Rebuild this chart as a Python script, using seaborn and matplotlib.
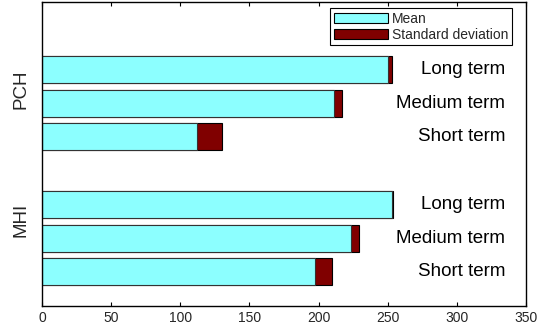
import numpy as np
import pandas as pd
import matplotlib
matplotlib.use("Agg")
import matplotlib.pyplot as plt
import matplotlib.patches as mpatches
import seaborn as sns
from matplotlib.transforms import blended_transform_factory

# ---- data ----
groups = ["MHI", "MHI", "MHI", "PCH", "PCH", "PCH"]
terms = ["Short term", "Medium term", "Long term",
         "Short term", "Medium term", "Long term"]
mean_vals = [197.6, 223.7, 253.0, 112.0, 211.5, 250.5]
sd_vals = [12.3, 5.3, 1.0, 18.0, 5.2, 2.5]
group_names = ["MHI", "PCH"]
term_order = ["Short term", "Medium term", "Long term"]
xticks = [0, 50, 100, 150, 200, 250, 300, 350]

sns.set_theme(style="white")
plt.rcParams['font.family'] = ['Liberation Sans', 'DejaVu Sans']

df = pd.DataFrame({"group": groups, "term": terms,
                   "mean": mean_vals, "sd": sd_vals})
df["pos"] = [group_names.index(g) * 4 + term_order.index(t) + 1
             for g, t in zip(df["group"], df["term"])]
df["total"] = df["mean"] + df["sd"]

fig = plt.figure(figsize=(5.37, 3.27), dpi=100)
ax = fig.add_axes([0.078, 0.065, 0.9015, 0.929])

cyan = "#8CFFFF"
dred = "#800000"
sns.barplot(data=df, x="total", y="pos", orient="h", native_scale=True,
            color=dred, saturation=1, edgecolor="black", linewidth=0.8,
            width=0.8, ax=ax)
sns.barplot(data=df, x="mean", y="pos", orient="h", native_scale=True,
            color=cyan, saturation=1, edgecolor="#333333", linewidth=0.8,
            width=0.8, ax=ax)

ax.set_xlim(0, 350)
ax.set_ylim(0, 9)
ax.set_xticks(xticks)
ax.set_xticklabels([str(v) for v in xticks], fontsize=10)
ax.set_yticks([])
ax.set_xlabel("")
ax.set_ylabel("")
ax.tick_params(axis="x", direction="in", length=3, top=True, bottom=True,
               width=0.8, color="black", pad=3.5)
for s in ax.spines.values():
    s.set_visible(True)
    s.set_color("black")
    s.set_linewidth(1.0)

for _, r in df.iterrows():
    ax.text(335, r["pos"], r["term"], ha="right", va="center", fontsize=13.5,
            color="black")

tr = blended_transform_factory(fig.transFigure, ax.transData)
ax.text(21 / 537, 6.42, "PCH", rotation=90, ha="center", va="center",
        fontsize=13.5, transform=tr)
ax.text(21 / 537, 2.54, "MHI", rotation=90, ha="center", va="center",
        fontsize=13.5, transform=tr)

handles = [mpatches.Patch(facecolor=cyan, edgecolor="black", linewidth=0.8, label="Mean"),
           mpatches.Patch(facecolor=dred, edgecolor="black", linewidth=0.8,
                          label="Standard deviation")]
leg = ax.legend(handles=handles, loc="upper right", bbox_to_anchor=(0.971, 0.979),
                borderaxespad=0, fontsize=10, handlelength=3.9, handleheight=0.75,
                labelspacing=0.15, borderpad=0.25, handletextpad=0.3,
                fancybox=False, framealpha=1, edgecolor="black")
leg.get_frame().set_linewidth(0.8)

fig.savefig("out.png", dpi=100)
